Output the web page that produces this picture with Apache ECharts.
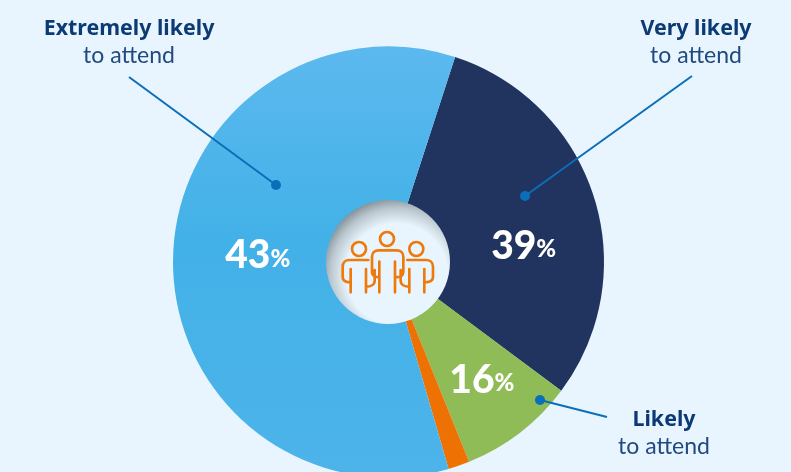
<!DOCTYPE html>
<html><head><meta charset="utf-8">
<style>html,body{margin:0;padding:0;background:#e8f5fe}#c{width:791px;height:472px}</style>
<script src="https://cdn.jsdelivr.net/npm/echarts@6/dist/echarts.min.js"></script>
</head><body><div id="c"></div>
<script>
// Slice order runs clockwise from the navy slice. Shares are the arc sizes as drawn in the picture.
var categories = ['Very likely', 'Likely', 'Unlikely', 'Extremely likely'];
var drawnShares = [30.2, 8.7, 1.6, 59.5];
var printedPercents = ['39', '16', '', '43'];
var colors = ['#21335f', '#8fbc57', '#ee7203', '#48b3e9'];
var labelOffsets = [[2, 27], [8, 8], [0, 0], [9, -4]];
var callouts = [
  {strong: 'Extremely likely', light: 'to attend', tx: 129, ty: 29, from: [129, 77], to: [276, 185]},
  {strong: 'Very likely', light: 'to attend', tx: 696, ty: 29, from: [692, 76], to: [525, 196]},
  {strong: 'Likely', light: 'to attend', tx: 664, ty: 420, from: [607, 417], to: [540, 400]}
];
var FONT = 'Lato';
var peoplePath = 'M222 147a21 21 0 1 1-42 0a21 21 0 1 1 42 0Z' +
 'M138 177a21 21 0 1 1-42 0a21 21 0 1 1 42 0Z' +
 'M310 177a21 21 0 1 1-42 0a21 21 0 1 1 42 0Z' +
 'M178 307V215M225 307V215' +
 'M178 262C168 262 156 258 156 245V200C156 188 165 181 176 181H230C241 181 250 188 250 200V245C250 258 238 262 225 262' +
 'M145 210H88C76 210 68 218 68 230V262C68 272 78 277 92 277M92 307V237' +
 'M262 210H318C330 210 339 218 339 230V262C339 272 329 277 313 277M313 307V237' +
 'M138 307V237M138 290C152 290 164 284 164 272V240' +
 'M268 307V237M268 290C254 290 242 284 242 272V240';
echarts.graphic.registerShape('people', echarts.graphic.extendPath(peoplePath, {}));

var pieData = categories.map(function (name, i) {
  var fill = colors[i];
  if (i === 3) {
    fill = new echarts.graphic.LinearGradient(0, 0, 0, 1, [
      {offset: 0, color: '#5cb9ef'}, {offset: 0.45, color: '#42b1e7'}, {offset: 1, color: '#4db4ea'}
    ]);
  }
  return {
    name: name, value: drawnShares[i], itemStyle: {color: fill},
    label: {
      show: printedPercents[i] !== '',
      offset: labelOffsets[i],
      formatter: '{n|' + printedPercents[i] + '}{p|%}'
    }
  };
});

var graphics = [];
callouts.forEach(function (c) {
  graphics.push({type: 'line', z: 20, shape: {x1: c.from[0], y1: c.from[1], x2: c.to[0], y2: c.to[1]},
    style: {stroke: '#0a6fb8', lineWidth: 2}});
  graphics.push({type: 'circle', z: 21, shape: {cx: c.to[0], cy: c.to[1], r: 5}, style: {fill: '#0a6fb8'}});
  graphics.push({type: 'text', z: 22, x: c.tx, y: c.ty, style: {text: c.strong, fill: '#0c3a75',
    font: '700 21.4px "Noto Sans"', textAlign: 'center', textVerticalAlign: 'middle'}});
  graphics.push({type: 'text', z: 22, x: c.tx, y: c.ty + 27, style: {text: c.light, fill: '#204a80',
    font: '400 23px ' + FONT, textAlign: 'center', textVerticalAlign: 'middle'}});
});
graphics.push({type: 'circle', z: 30, shape: {cx: 388, cy: 262, r: 62},
  style: {fill: new echarts.graphic.RadialGradient(0.57, 0.6, 0.62, [
    {offset: 0, color: '#e8f5fe'}, {offset: 0.66, color: '#e8f5fe'},
    {offset: 0.86, color: '#bcc8cf'}, {offset: 1, color: '#84949c'}
  ])}});
graphics.push({type: 'people', z: 31, x: 320, y: 190, scaleX: 1 / 3, scaleY: 1 / 3,
  style: {fill: null, stroke: '#ee7a0c', lineWidth: 8, lineCap: 'round', lineJoin: 'round'}});

var chart = echarts.init(document.getElementById('c'), null, {renderer: 'canvas'});
chart.setOption({
  animation: false,
  backgroundColor: '#e8f5fe',
  series: [{
    type: 'pie',
    center: [388.5, 262],
    radius: [58, 215.5],
    startAngle: 72,
    clockwise: true,
    silent: true,
    data: pieData,
    labelLine: {show: false},
    label: {
      position: 'inside',
      rich: {
        n: {fontFamily: FONT, fontWeight: 900, fontSize: 39, color: '#fff'},
        p: {fontFamily: FONT, fontWeight: 900, fontSize: 24, color: '#fff', padding: [6, 0, 0, 0]}
      }
    }
  }],
  graphic: graphics
});
</script></body></html>
